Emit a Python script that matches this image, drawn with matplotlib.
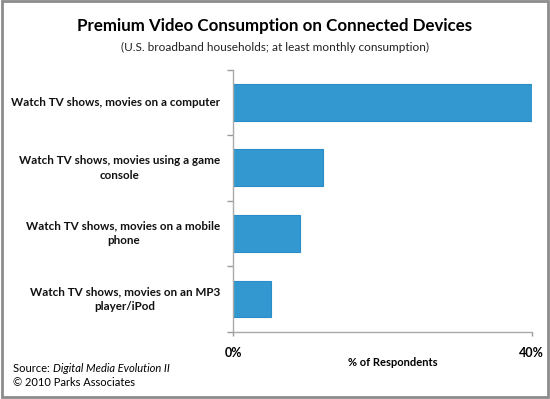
import matplotlib.pyplot as plt
from matplotlib.patches import Rectangle

categories = [
    "Watch TV shows, movies on a computer",
    "Watch TV shows, movies using a game\nconsole",
    "Watch TV shows, movies on a mobile\nphone",
    "Watch TV shows, movies on an MP3\nplayer/iPod",
]
values = [40, 12, 9, 5]
xtick_vals = [0, 40]
xtick_labels = ["0%", "40%"]

plt.rcParams['font.family'] = ['Lato', 'DejaVu Sans']

fig = plt.figure(figsize=(5.5, 3.99), dpi=100)
ax = fig.add_axes([0.4242, 0.1687, 0.5425, 0.657])

ypos = list(range(len(categories)))
ax.barh(ypos, values, height=0.56, color='#3498d0', edgecolor='#2a8cc8', linewidth=0.8)
ax.set_ylim(len(categories) - 0.5, -0.5)
ax.set_xlim(0, 40)

# category boundary ticks on y axis
ax.set_yticks([i - 0.5 for i in range(len(categories) + 1)])
ax.set_yticklabels([])
ax.tick_params(axis='y', direction='out', length=4, color='#999999', width=1)
ax.set_xticks(xtick_vals)
ax.set_xticklabels([])
ax.tick_params(axis='x', direction='out', length=3, color='#999999', width=1)

for s in ['top', 'right']:
    ax.spines[s].set_visible(False)
for s in ['left', 'bottom']:
    ax.spines[s].set_color('#aaaaaa')
    ax.spines[s].set_linewidth(1)

# category labels, centered multiline, right edge near axis
for i, lab in enumerate(categories):
    ax.annotate(lab, xy=(0, i), xycoords=('axes fraction', 'data'),
                xytext=(-13, 0), textcoords='offset pixels',
                ha='right', va='center', multialignment='center',
                fontsize=8.4, fontweight='bold', color='#111111', linespacing=1.4)

# x tick labels
for v, lab in zip(xtick_vals, xtick_labels):
    ax.annotate(lab, xy=(v, 0), xycoords=('data', 'axes fraction'),
                xytext=(0, -21), textcoords='offset pixels',
                ha='center', va='center', fontsize=9, fontweight='bold')

fig.text(393 / 550, 1 - 363 / 399, "% of Respondents", ha='center', va='center',
         fontsize=8, fontweight='bold')

fig.text(0.5, 1 - 26 / 399, "Premium Video Consumption on Connected Devices",
         ha='center', va='center', fontsize=12.2, fontweight='bold')
fig.text(0.5, 1 - 47 / 399, "(U.S. broadband households; at least monthly consumption)",
         ha='center', va='center', fontsize=8.5, color='#222222')

fig.text(13 / 550, 1 - 368 / 399, "Source: ", ha='left', va='center', fontsize=8)
fig.text(13 / 550 + 0.073, 1 - 368 / 399, "Digital Media Evolution II", ha='left',
         va='center', fontsize=8, style='italic')
fig.text(13 / 550, 1 - 383 / 399, "\u00a9 2010 Parks Associates", ha='left',
         va='center', fontsize=8)

# grey frame around the whole picture
fig.patches.append(Rectangle((0.003, 0.004), 0.994, 0.993, transform=fig.transFigure,
                             fill=False, edgecolor='#8c8c8c', linewidth=2))

fig.savefig('out.png', dpi=100)
